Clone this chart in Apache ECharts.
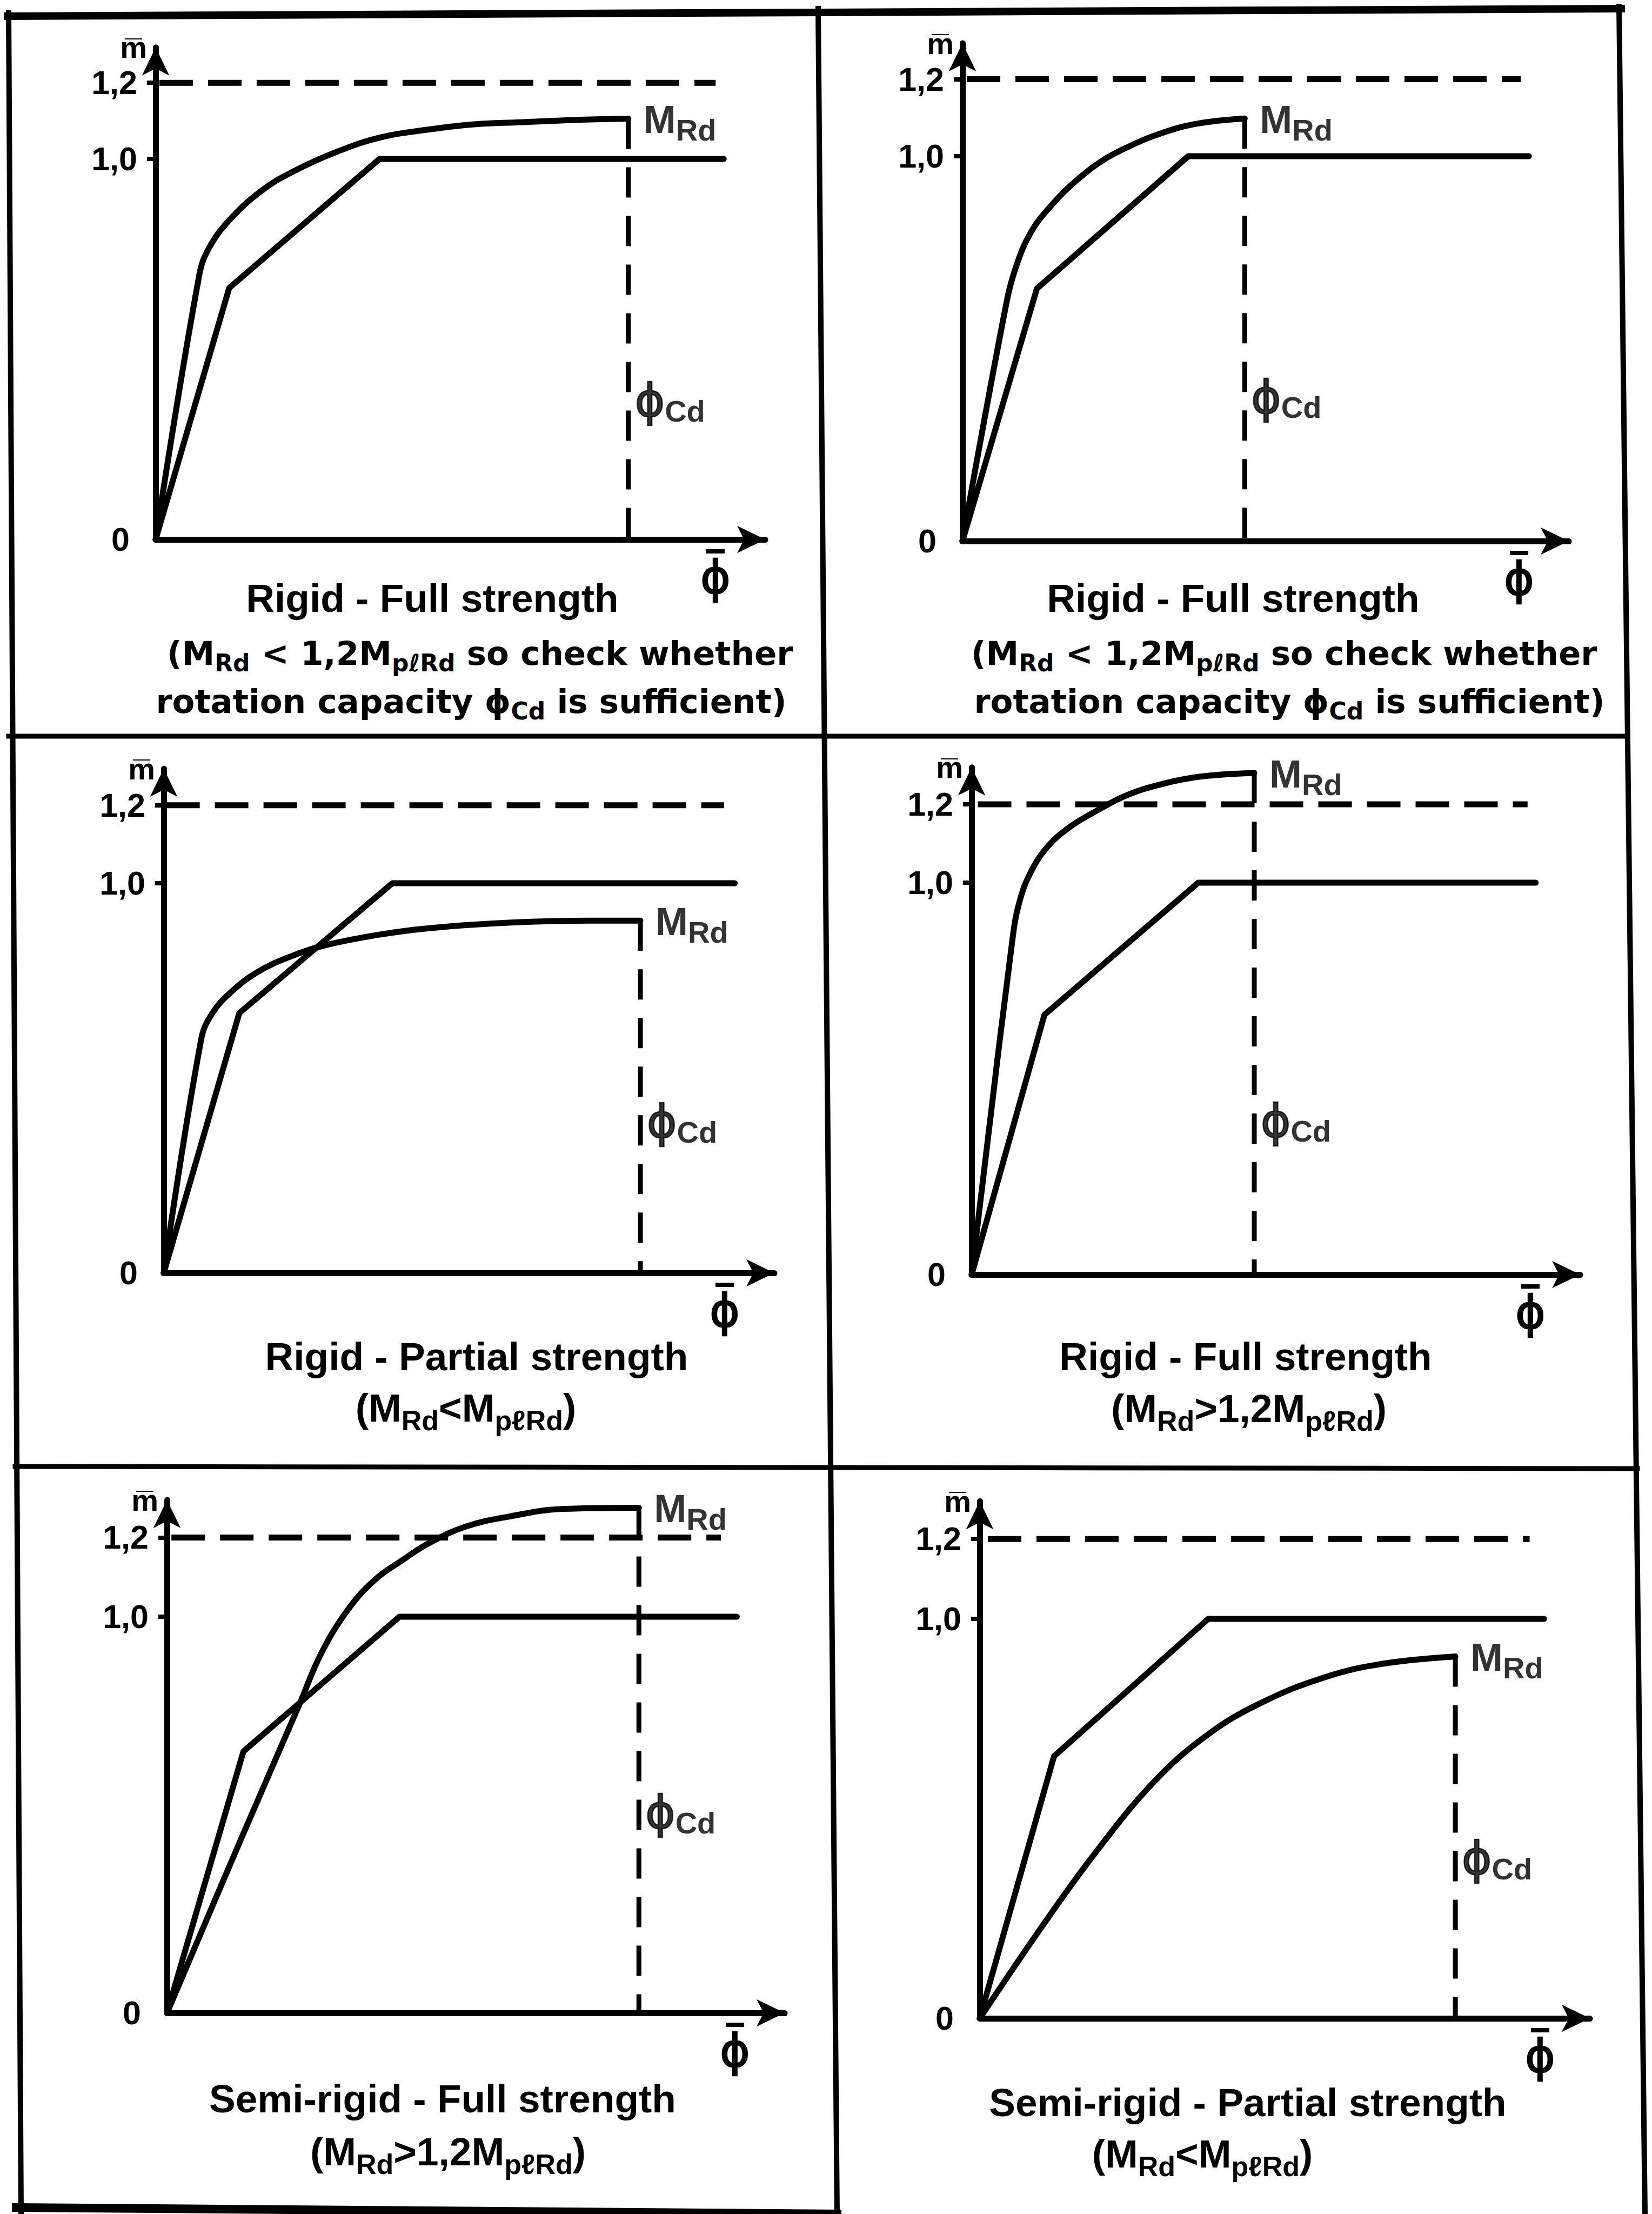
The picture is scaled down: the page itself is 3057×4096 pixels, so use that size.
<!DOCTYPE html>
<html>
<head>
<meta charset="utf-8">
<script src="https://cdn.jsdelivr.net/npm/echarts@6/dist/echarts.min.js"></script>
<style>
html,body{margin:0;padding:0;background:#fff;}
#chart{width:3057px;height:4096px;}
</style>
</head>
<body>
<div id="chart"></div>
<script>
// ---------------- DATA ----------------
// x: normalised rotation phi-bar (0..10 = length of the x arrow), y: m-bar
const yTickValues = [0, 1.0, 1.2];
const limitLevel = 1.2;

const captionLine1 = [
  'Rigid - Full strength',
  'Rigid - Full strength',
  'Rigid - Partial strength',
  'Rigid - Full strength',
  'Semi-rigid - Full strength',
  'Semi-rigid - Partial strength'
];
const captionLine2 = [
  '(M_{Rd} < 1,2M_{pℓRd} so check whether',
  '(M_{Rd} < 1,2M_{pℓRd} so check whether',
  '(M_{Rd}<M_{pℓRd})',
  '(M_{Rd}>1,2M_{pℓRd})',
  '(M_{Rd}>1,2M_{pℓRd})',
  '(M_{Rd}<M_{pℓRd})'
];
const captionLine3 = [
  'rotation capacity ϕ_{Cd} is sufficient)',
  'rotation capacity ϕ_{Cd} is sufficient)',
  '', '', '', ''
];

// design (classification) envelope, tri-linear
const envelopeP1 = [[0,0],[1.18,0.661],[3.59,1.0],[9.11,1.0]];
const envelopeP2 = [[0,0],[1.20,0.656],[3.64,1.0],[9.13,1.0]];
const envelopeP3 = [[0,0],[1.21,0.667],[3.66,1.0],[9.14,1.0]];
const envelopeP4 = [[0,0],[1.17,0.663],[3.64,1.0],[9.06,1.0]];
const envelopeP5 = [[0,0],[1.21,0.660],[3.68,1.0],[9.02,1.0]];
const envelopeP6 = [[0,0],[1.19,0.656],[3.66,1.0],[9.04,1.0]];

// moment-rotation curves up to the rotation capacity (last point = M_Rd at phi_Cd)
const mrdP1 = [[0,0],[0.70,0.695],[0.87,0.770],[1.21,0.844],[1.72,0.919],[2.23,0.969],[2.91,1.019],[3.59,1.056],[4.27,1.075],[5.11,1.091],[5.96,1.097],[6.81,1.103],[7.58,1.106]];
const mrdP2 = [[0,0],[0.68,0.595],[0.85,0.706],[1.11,0.804],[1.46,0.877],[1.81,0.933],[2.25,0.988],[2.68,1.025],[3.12,1.055],[3.73,1.083],[4.55,1.098]];
const mrdP3 = [[0,0],[0.60,0.600],[0.78,0.667],[1.08,0.721],[1.51,0.773],[2.03,0.812],[2.54,0.839],[3.41,0.867],[4.27,0.885],[5.56,0.899],[6.85,0.904],[7.63,0.904]];
const mrdP4 = [[0,0],[0.66,0.861],[0.78,0.958],[0.96,1.030],[1.21,1.090],[1.55,1.139],[1.98,1.181],[2.49,1.223],[3.09,1.253],[3.69,1.271],[4.54,1.280]];
const mrdP5 = [[0,0],[1.17,0.438],[2.11,0.784],[2.44,0.907],[2.87,1.019],[3.29,1.093],[3.72,1.142],[4.14,1.185],[4.74,1.228],[5.42,1.253],[6.26,1.272],[7.47,1.275]];
const mrdP6 = [[0,0],[1.02,0.235],[1.87,0.418],[2.81,0.595],[3.66,0.711],[4.51,0.790],[5.53,0.854],[6.47,0.888],[7.62,0.906]];

// dashed 1,2 limit line extent
const limitStartX = [0.06, 0.07, 0.04, 0.10, 0.07, 0.13];
const limitEndX   = [8.98, 9.00, 8.97, 8.93, 8.77, 8.81];
// height (m-bar) where the phi_Cd label sits on the dashed capacity line
const phiCdLabelY = [0.365, 0.374, 0.388, 0.392, 0.506, 0.400];

const envelopes = [envelopeP1, envelopeP2, envelopeP3, envelopeP4, envelopeP5, envelopeP6];
const mrdCurves = [mrdP1, mrdP2, mrdP3, mrdP4, mrdP5, mrdP6];

// ---------------- LAYOUT (pixels) ----------------
const FONT = '"Liberation Sans", Arial, Helvetica, sans-serif';
const WIDE = '"DejaVu Sans", Verdana, sans-serif';
const INK = '#000';
const LW = 11;
const ARROW = [38, 52];
const Y_TIP = 1.33;   // arrow tip of the m-bar axis, in m-bar units
const X_TIP = 10;     // arrow tip of the phi-bar axis
const layout = [
  {ox: 288,  oy: 998,  u: 704, L: 1154, c1: [800, 1106],  c2: [888, 1208],  c3: [872, 1297]},
  {ox: 1781, oy: 1001, u: 712, L: 1148, c1: [2282, 1106], c2: [2376, 1208], c3: [2386, 1297]},
  {ox: 303,  oy: 2355, u: 721, L: 1156, c1: [882, 2509],  c2: [862, 2604]},
  {ox: 1798, oy: 2358, u: 725, L: 1152, c1: [2305, 2509], c2: [2311, 2605]},
  {ox: 309,  oy: 3724, u: 733, L: 1169, c1: [819, 3882],  c2: [829, 3980]},
  {ox: 1813, oy: 3734, u: 739, L: 1155, c1: [2309, 3889], c2: [2225, 3984]}
];

function nb(s) { return s.replace(/ /g, '\u00A0'); }
function toRich(str) {
  const parts = str.split(/_\{([^}]*)\}/);
  let out = '';
  parts.forEach((p, k) => {
    if (!p) return;
    out += (k % 2 ? '{s|' : '{a|') + nb(p) + '}';
  });
  return out;
}
function captionRich(family, main, sub, shift) {
  return {
    a: {fontFamily: family, fontWeight: 'bold', fontSize: main, fill: INK, color: INK, verticalAlign: 'middle'},
    s: {fontFamily: family, fontWeight: 'bold', fontSize: sub, fill: INK, color: INK, verticalAlign: 'middle', padding: [2 * shift, 0, 0, 0]}
  };
}
const phiStyle = {fontFamily: WIDE, fontWeight: 'normal', fontSize: 84, color: INK, verticalAlign: 'middle',
                  textBorderColor: INK, textBorderWidth: 2.5};
const labelRich = {
  m: {fontFamily: FONT, fontWeight: 'bold', fontSize: 72, color: INK, verticalAlign: 'middle'},
  p: phiStyle,
  s: {fontFamily: FONT, fontWeight: 'bold', fontSize: 56, color: INK, verticalAlign: 'middle', padding: [38, 0, 0, 0]}
};

const grids = [], xAxes = [], yAxes = [], series = [], graphics = [];

layout.forEach((p, i) => {
  const W = p.L - ARROW[1] / 2;
  const H = Y_TIP * p.u - ARROW[1] / 2;
  grids.push({left: p.ox, top: p.oy - H, width: W, height: H, containLabel: false, outerBoundsMode: 'none', show: false});
  xAxes.push({
    gridIndex: i, type: 'value', min: 0, max: X_TIP * W / p.L,
    axisLine: {show: true, onZero: false, symbol: ['none', 'arrow'], symbolSize: ARROW, lineStyle: {color: INK, width: LW, cap: 'round'}},
    axisTick: {show: false}, axisLabel: {show: false}, splitLine: {show: false},
    // phi with an over-bar: spacer line, bar line, glyph line
    name: '{sp|\u00A0}\n{o|\u00A0}\n{n|\u03D5}', nameLocation: 'end', nameGap: -(118 - ARROW[1] / 2), nameMoveOverlap: false,
    nameTextStyle: {
      fontFamily: WIDE, fontWeight: 'normal', fontSize: 84, color: INK, align: 'center', verticalAlign: 'middle',
      rich: {
        sp: {fontSize: 8, height: 132, lineHeight: 132},
        o: {fontSize: 8, width: 34, height: 8, lineHeight: 8, backgroundColor: INK},
        n: Object.assign({}, phiStyle, {lineHeight: 88})
      }
    }
  });
  yAxes.push({
    gridIndex: i, type: 'value', min: 0, max: Y_TIP - (ARROW[1] / 2) / p.u,
    axisLine: {show: true, onZero: false, symbol: ['none', 'arrow'], symbolSize: ARROW, lineStyle: {color: INK, width: LW, cap: 'round'}},
    axisTick: {show: true, customValues: yTickValues.filter(v => v > 0), length: 16, lineStyle: {color: INK, width: 8}},
    axisLabel: {
      show: true, customValues: yTickValues, margin: 34,
      fontFamily: FONT, fontWeight: 'bold', fontSize: 61, color: INK,
      formatter: v => v === 0 ? '{z|0}' : v.toFixed(1).replace('.', ','),
      rich: {z: {fontFamily: FONT, fontWeight: 'bold', fontSize: 61, color: INK, padding: [0, 14, 0, 0]}}
    },
    splitLine: {show: false},
    name: '{n|m\u0305}', nameLocation: 'end', nameGap: 0, nameMoveOverlap: false,
    nameTextStyle: {
      fontFamily: FONT, fontWeight: 'bold', fontSize: 56, color: INK, align: 'right', verticalAlign: 'middle',
      rich: {n: {fontFamily: FONT, fontWeight: 'bold', fontSize: 56, color: INK, verticalAlign: 'middle', padding: [0, 16, 0, 0]}}
    }
  });

  const curve = mrdCurves[i];
  const end = curve[curve.length - 1];
  const common = {xAxisIndex: i, yAxisIndex: i, symbol: 'none', clip: false, animation: false, silent: true};

  series.push(Object.assign({}, common, {
    type: 'line', name: 'limit ' + (i + 1),
    data: [[limitStartX[i], limitLevel], [limitEndX[i], limitLevel]],
    lineStyle: {color: INK, width: LW, type: [62, 28], cap: 'butt'}
  }));
  series.push(Object.assign({}, common, {
    type: 'line', name: 'envelope ' + (i + 1), data: envelopes[i],
    lineStyle: {color: INK, width: LW, join: 'round', cap: 'round'}
  }));
  series.push(Object.assign({}, common, {
    type: 'line', name: 'M-phi ' + (i + 1), data: curve, smooth: 0.4,
    lineStyle: {color: INK, width: LW, join: 'round', cap: 'round'}
  }));
  series.push(Object.assign({}, common, {
    type: 'line', name: 'phiCd ' + (i + 1), data: [[end[0], end[1]], [end[0], 0]],
    lineStyle: {color: INK, width: 9, type: [56, 34], cap: 'butt'}
  }));
  series.push({
    type: 'scatter', xAxisIndex: i, yAxisIndex: i, symbolSize: 0, silent: true, animation: false, clip: false,
    itemStyle: {color: INK},
    data: [
      {value: [end[0], end[1]], label: {show: true, position: 'right', distance: 28, offset: [0, 2], formatter: '{m|M}{s|Rd}', rich: labelRich}},
      {value: [end[0], phiCdLabelY[i]], label: {show: true, position: 'right', distance: 12, formatter: '{p|\u03D5}{s|Cd}', rich: labelRich}}
    ]
  });

  const hasThird = !!captionLine3[i];
  const lines = [
    [captionLine1[i], p.c1, FONT, 73, 52, 24],
    hasThird ? [captionLine2[i], p.c2, WIDE, 61, 44, 18] : [captionLine2[i], p.c2, FONT, 73, 52, 24],
    [captionLine3[i], p.c3, WIDE, 61, 44, 18]
  ];
  lines.forEach(([t, c, fam, main, sub, shift]) => {
    if (!t || !c) return;
    graphics.push({
      type: 'text', x: c[0], y: c[1], silent: true,
      style: {text: toRich(t), rich: captionRich(fam, main, sub, shift), align: 'center', verticalAlign: 'middle', fill: INK,
              font: 'bold ' + main + 'px ' + fam}
    });
  });
});

// panel frame
const frame = [
  [[14, 30], [3000, 16], 14],
  [[16, 24], [39, 4096], 10],
  [[2996, 12], [3044, 4096], 10],
  [[1514, 16], [1549, 4096], 10],
  [[16, 1362], [3010, 1362], 9],
  [[28, 2713], [3030, 2717], 9],
  [[30, 4084], [1549, 4096], 16]
];
frame.forEach(([a, b, w]) => {
  graphics.push({type: 'line', silent: true, z: 100,
    shape: {x1: a[0], y1: a[1], x2: b[0], y2: b[1]},
    style: {stroke: INK, lineWidth: w, lineCap: 'square'}});
});

const chart = echarts.init(document.getElementById('chart'), null, {renderer: 'svg', width: 3057, height: 4096});
chart.setOption({
  backgroundColor: '#fff',
  animation: false,
  textStyle: {fontFamily: FONT, fontWeight: 'bold', color: INK},
  grid: grids,
  xAxis: xAxes,
  yAxis: yAxes,
  series: series,
  graphic: graphics
});
</script>
</body>
</html>
